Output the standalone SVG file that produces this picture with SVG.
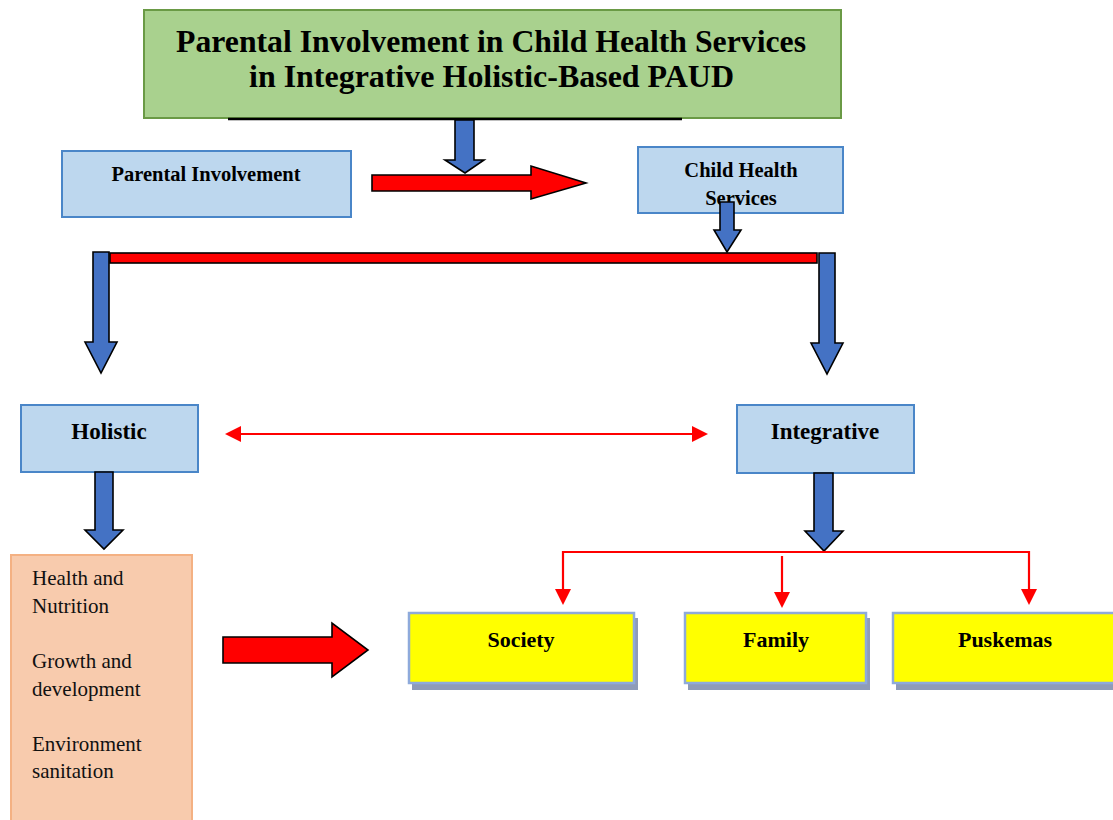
<svg xmlns="http://www.w3.org/2000/svg" width="1113" height="820" viewBox="0 0 1113 820">
  <style>
    .title { font-family: "Liberation Serif", "Times New Roman", serif; font-weight: bold; font-size: 32px; fill: #000; }
    .lbl { font-family: "Liberation Serif", "Times New Roman", serif; font-weight: bold; fill: #000; text-anchor: middle; }
    .item { font-family: "Liberation Serif", "Times New Roman", serif; font-size: 21px; fill: #111; }
    .bluebox { fill: #bdd7ee; stroke: #4a86c8; stroke-width: 2; }
    .yellowbox { fill: #ffff00; stroke: #8eaadb; stroke-width: 2.5; }
    .shadow { fill: #8e9bb8; }
    .blk { fill: #4472c4; stroke: #000; stroke-width: 1.6; stroke-linejoin: miter; }
    .redblk { fill: #ff0000; stroke: #000; stroke-width: 1.6; }
    .thin { stroke: #ff0000; stroke-width: 2.2; fill: none; }
    .head { fill: #ff0000; }
  </style>

  <rect width="1113" height="820" fill="#ffffff"/>

  <!-- title -->
  <g id="title">
    <rect x="144" y="10" width="697" height="108" fill="#a9d18e" stroke="#6a9a45" stroke-width="2"/>
    <line x1="228" y1="119" x2="682" y2="119" stroke="#000" stroke-width="2.5"/>
    <text class="title" x="176" y="52" textLength="630" lengthAdjust="spacingAndGlyphs">Parental Involvement in Child Health Services</text>
    <text class="title" x="249" y="87" textLength="485" lengthAdjust="spacingAndGlyphs">in Integrative Holistic-Based PAUD</text>
  </g>

  <g id="parental">
    <rect class="bluebox" x="62" y="151" width="289" height="66"/>
    <text class="lbl" x="206" y="181" font-size="20.5">Parental Involvement</text>
  </g>

  <g id="child-health">
    <rect class="bluebox" x="638" y="147" width="205" height="66"/>
    <text class="lbl" x="741" y="177" font-size="20.5">Child Health</text>
    <text class="lbl" x="741" y="205" font-size="20.5">Services</text>
  </g>

  <g id="holistic">
    <rect class="bluebox" x="21" y="405" width="177" height="67"/>
    <text class="lbl" x="109" y="439" font-size="23">Holistic</text>
  </g>

  <g id="integrative">
    <rect class="bluebox" x="737" y="405" width="177" height="68"/>
    <text class="lbl" x="825" y="439" font-size="23">Integrative</text>
  </g>

  <g id="aspects">
    <rect x="11" y="555" width="181" height="275" fill="#f8cbad" stroke="#f4b183" stroke-width="2"/>
    <text class="item" x="32" y="585">Health and</text>
    <text class="item" x="32" y="613">Nutrition</text>
    <text class="item" x="32" y="668">Growth and</text>
    <text class="item" x="32" y="696">development</text>
    <text class="item" x="32" y="751">Environment</text>
    <text class="item" x="32" y="778">sanitation</text>
  </g>

  <g id="society">
    <rect class="shadow" x="412" y="618" width="226" height="72"/>
    <rect class="yellowbox" x="409" y="613" width="225" height="70"/>
    <text class="lbl" x="521" y="647" font-size="22">Society</text>
  </g>

  <g id="family">
    <rect class="shadow" x="688" y="618" width="182" height="72"/>
    <rect class="yellowbox" x="685" y="613" width="181" height="70"/>
    <text class="lbl" x="776" y="647" font-size="22">Family</text>
  </g>

  <g id="puskemas">
    <rect class="shadow" x="896" y="618" width="230" height="72"/>
    <rect class="yellowbox" x="893" y="613" width="230" height="70"/>
    <text class="lbl" x="1005" y="647" font-size="22">Puskemas</text>
  </g>

  <g id="connectors">
    <!-- block arrows -->
    <polygon class="blk" points="455,120 474,120 474,160 484,160 465,173 445,160 455,160"/>
    <polygon class="redblk" points="372,175 531,175 531,166 586,183 531,199 531,191 372,191"/>
    <polygon class="blk" points="720,202 734,202 734,230 741,230 727,252 714,230 720,230"/>
    <rect class="redblk" x="110" y="253" width="707" height="10"/>
    <polygon class="blk" points="93,252 109,252 109,342 117,342 101,373 85,342 93,342"/>
    <polygon class="blk" points="819,253 835,253 835,343 843,343 827,374 811,343 819,343"/>
    <polygon class="blk" points="95,472 113,472 113,530 123,530 104,549 85,530 95,530"/>
    <polygon class="blk" points="814,473 833,473 833,531 843,531 824,551 805,531 814,531"/>
    <polygon class="redblk" points="223,637 332,637 332,623 368,650 332,677 332,663 223,663"/>

    <!-- two-way link -->
    <line class="thin" x1="238" y1="434" x2="694" y2="434"/>
    <polygon class="head" points="225,434 241,426 241,442"/>
    <polygon class="head" points="708,434 692,426 692,442"/>

    <!-- branches -->
    <polyline class="thin" points="563,591 563,552 1029,552 1029,591"/>
    <line class="thin" x1="782" y1="556" x2="782" y2="594" stroke="#d00000"/>
    <polygon class="head" points="555,589 571,589 563,605"/>
    <polygon class="head" points="774,592 790,592 782,608"/>
    <polygon class="head" points="1021,589 1037,589 1029,605"/>
  </g>
</svg>
